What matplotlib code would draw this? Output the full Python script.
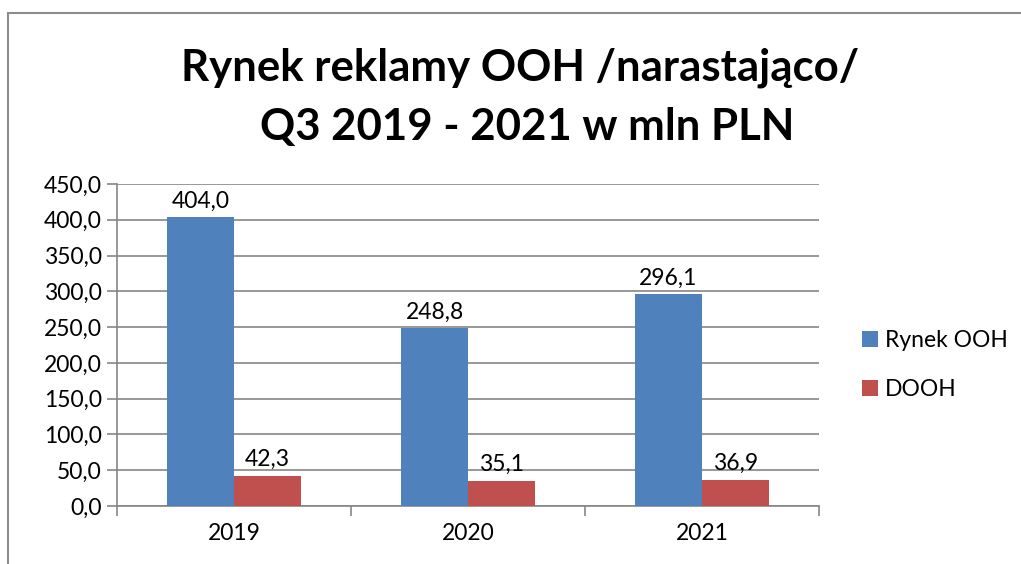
import matplotlib
matplotlib.use("Agg")
import matplotlib.pyplot as plt
from matplotlib.patches import Rectangle
import numpy as np

categories = ["2019", "2020", "2021"]
rynek_ooh = [404.0, 248.8, 296.1]
dooh = [42.3, 35.1, 36.9]
series_names = ["Rynek OOH", "DOOH"]
colors = ["#4F81BD", "#C0504D"]

plt.rcParams['font.family'] = ['Lato', 'DejaVu Sans']

W, H = 1021, 564
fig = plt.figure(figsize=(W/100, H/100), dpi=100)

# outer chart frame
fig.patches.append(Rectangle((8/W, -0.1), 1.2, (H-13)/H + 0.1, transform=fig.transFigure,
                             fill=False, edgecolor="#8C8C8C", linewidth=1.5))

ax = fig.add_axes([117/W, 1-506/H, (819-117)/W, (506-184)/H])

FS = 16.5
x = np.arange(len(categories))
bw = 0.286
b1 = ax.bar(x - bw/2, rynek_ooh, bw, color=colors[0], label=series_names[0], zorder=3)
b2 = ax.bar(x + bw/2, dooh, bw, color=colors[1], label=series_names[1], zorder=3)

for bars, vals in ((b1, rynek_ooh), (b2, dooh)):
    for b, v in zip(bars, vals):
        ax.annotate(f"{v:.1f}".replace(".", ","), (b.get_x() + b.get_width()/2, v),
                    xytext=(0, 4), textcoords="offset points", ha="center", va="bottom",
                    fontsize=FS)

ax.set_xlim(-0.5, 2.5)
ax.set_ylim(0, 450)
yt = np.arange(0, 451, 50)
ax.set_yticks(yt)
ax.set_yticklabels([f"{v:.1f}".replace(".", ",") for v in yt], fontsize=FS)
ax.set_xticks(x)
ax.set_xticklabels(categories, fontsize=FS)
ax.tick_params(axis="x", length=0, pad=12)
ax.set_xticks([-0.5, 0.5, 1.5, 2.5], minor=True)
ax.tick_params(axis="x", which="minor", length=7, color="#868686", width=1.2)
ax.tick_params(axis="y", length=7, color="#868686", width=1.2, pad=4)
ax.grid(axis="y", color="#868686", linewidth=1.2, zorder=0)
for s in ("top", "right"):
    ax.spines[s].set_visible(False)
for s in ("left", "bottom"):
    ax.spines[s].set_color("#868686")
    ax.spines[s].set_linewidth(1.2)

fig.text(520/W, 1-68/H, "Rynek reklamy OOH /narastająco/", ha="center", va="center",
         fontsize=31.5, fontweight="bold")
fig.text(527/W, 1-127/H, "Q3 2019 - 2021 w mln PLN", ha="center", va="center",
         fontsize=31.5, fontweight="bold")

leg = fig.legend(handles=[b1, b2], labels=series_names, loc="center left",
                 bbox_to_anchor=(841/W, 1-365/H), frameon=False, fontsize=FS,
                 handlelength=0.7, handleheight=0.7, labelspacing=1.2, handletextpad=0.3)

fig.savefig("out.png", dpi=100)
